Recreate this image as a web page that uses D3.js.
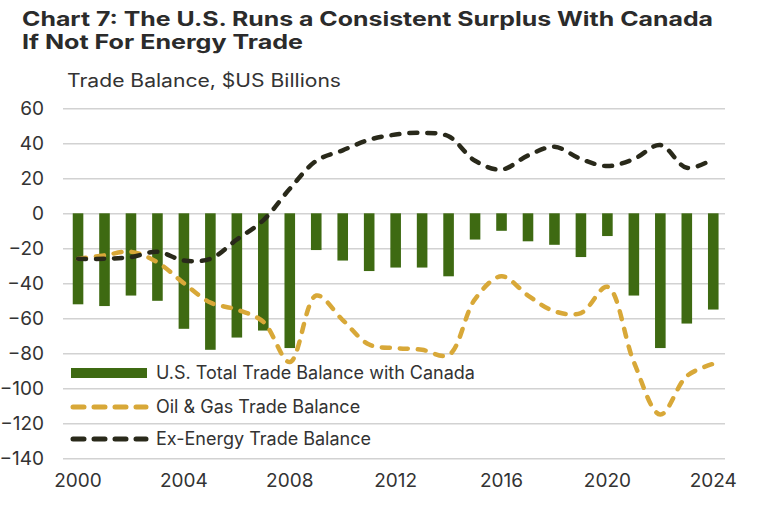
<!DOCTYPE html>
<html>
<head>
<meta charset="utf-8">
<script src="https://cdn.jsdelivr.net/npm/d3@7"></script>
<style>
  body { margin: 0; background: #fff; }
  svg { display: block; }
</style>
</head>
<body>
<div id="chart"></div>
<script>
const years = d3.range(2000, 2025);
const totalBalance = [-52, -53, -47, -50, -66, -78, -71, -67, -77, -21, -27, -33, -31,
  -31, -36, -15, -10, -16, -18, -25, -13, -47, -77, -63, -55];
const oilGasBalance = [-26, -24, -22, -28, -40, -51, -55, -62, -85, -47, -61, -75, -77,
  -78, -81, -49, -36, -47, -56, -57, -42, -85, -115, -93, -86];
const exEnergyBalance = [-26, -26, -25, -22, -27, -26, -15, -4, 14, 30, 36, 42, 45,
  46, 44, 30, 25, 33, 38, 31, 27, 31, 39, 26, 31];
const yTicks = [60, 40, 20, 0, -20, -40, -60, -80, -100, -120, -140];
const xTicks = [2000, 2004, 2008, 2012, 2016, 2020, 2024];

const width = 768, height = 517;
const margin = ({top: 108.3, right: 42, bottom: 58.7, left: 64.8});

const green = "#3e6a12", gold = "#d8a838", dark = "#29291a", ink = "#333";
const font = "Inter, 'Open Sans', sans-serif";

const svg = d3.select("#chart")
  .append("svg")
  .attr("width", width)
  .attr("height", height)
  .style("font-family", font);

const x = d3.scaleBand()
  .domain(years)
  .range([margin.left, 726.5])
  .paddingInner(0.6)
  .paddingOuter(0.3);

const y = d3.scaleLinear()
  .domain([-140, 60])
  .range([height - margin.bottom, margin.top]);

const cx = d => x(d) + x.bandwidth() / 2;

// title + subtitle
svg.append("text")
  .attr("x", 22).attr("y", 26)
  .attr("textLength", 691).attr("lengthAdjust", "spacingAndGlyphs")
  .attr("font-size", 20).attr("font-weight", 700).attr("fill", "#2b2b2b")
  .text("Chart 7: The U.S. Runs a Consistent Surplus With Canada");

svg.append("text")
  .attr("x", 22).attr("y", 49)
  .attr("textLength", 281).attr("lengthAdjust", "spacingAndGlyphs")
  .attr("font-size", 20).attr("font-weight", 700).attr("fill", "#2b2b2b")
  .text("If Not For Energy Trade");

svg.append("text")
  .attr("x", 67).attr("y", 87)
  .attr("textLength", 274).attr("lengthAdjust", "spacingAndGlyphs")
  .attr("font-size", 18).attr("fill", ink)
  .text("Trade Balance, $US Billions");

// y axis: gridlines + labels
const yAxis = g => g
  .attr("transform", `translate(63,0)`)
  .call(d3.axisLeft(y).tickValues(yTicks).tickSize(-662).tickPadding(19))
  .call(g => g.select(".domain").remove())
  .call(g => g.selectAll(".tick line").attr("stroke", "#d2d2d2").attr("stroke-width", 1.6))
  .call(g => g.selectAll(".tick text")
    .attr("fill", ink).attr("font-size", 19).attr("font-family", font));

svg.append("g").call(yAxis);

// x axis labels only
const xAxis = g => g
  .attr("transform", `translate(0,${height - margin.bottom + 22})`)
  .call(d3.axisBottom(x).tickValues(xTicks).tickSize(0).tickPadding(0))
  .call(g => g.select(".domain").remove())
  .call(g => g.selectAll(".tick text")
    .attr("fill", ink).attr("font-size", 19).attr("font-family", font).attr("dy", "0.35em"));

svg.append("g").call(xAxis);

// bars
svg.append("g")
  .attr("fill", green)
  .selectAll("rect")
  .data(years)
  .join("rect")
  .attr("x", d => x(d))
  .attr("width", x.bandwidth())
  .attr("y", (d, i) => Math.min(y(0), y(totalBalance[i])))
  .attr("height", (d, i) => Math.abs(y(totalBalance[i]) - y(0)));

// dashed lines
const line = d3.line()
  .x((d, i) => cx(years[i]))
  .y(d => y(d))
  .curve(d3.curveCatmullRom.alpha(0.5));

const dashed = (values, color) => svg.append("path")
  .datum(values)
  .attr("fill", "none")
  .attr("stroke", color)
  .attr("stroke-width", 4.5)
  .attr("stroke-linecap", "round")
  .attr("stroke-dasharray", "8,10")
  .attr("d", line);

dashed(oilGasBalance, gold);
dashed(exEnergyBalance, dark);

// legend
const legendItems = [
  {label: "U.S. Total Trade Balance with Canada", type: "bar", color: green},
  {label: "Oil & Gas Trade Balance", type: "line", color: gold},
  {label: "Ex-Energy Trade Balance", type: "line", color: dark}
];

const legend = svg.append("g")
  .selectAll("g")
  .data(legendItems)
  .join("g")
  .attr("transform", (d, i) => `translate(71,${[373, 407, 439][i]})`);

legend.filter(d => d.type === "bar").append("rect")
  .attr("x", 0).attr("y", -5).attr("width", 76).attr("height", 10)
  .attr("fill", d => d.color);

legend.filter(d => d.type === "line").append("line")
  .attr("x1", 2).attr("x2", 75)
  .attr("stroke", d => d.color)
  .attr("stroke-width", 5)
  .attr("stroke-linecap", "round")
  .attr("stroke-dasharray", "11,10");

legend.append("text")
  .attr("x", 85).attr("dy", "0.35em")
  .attr("font-size", 18).attr("fill", ink)
  .text(d => d.label);
</script>
</body>
</html>
